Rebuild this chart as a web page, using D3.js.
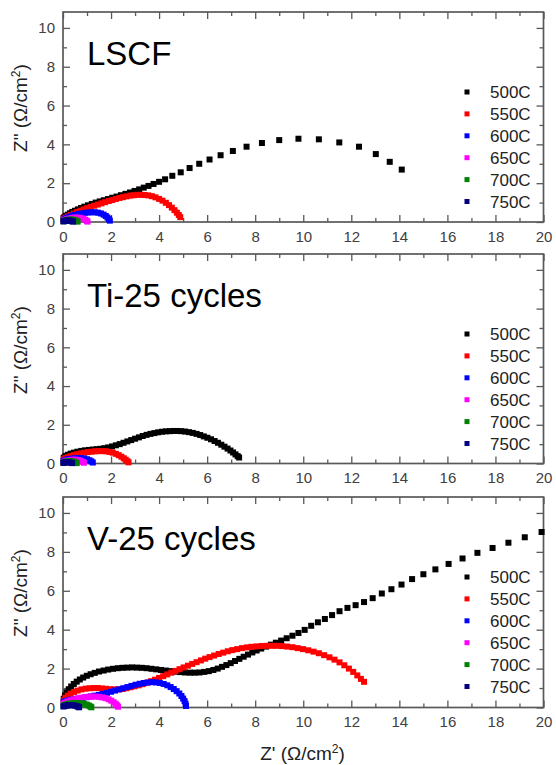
<!DOCTYPE html>
<html>
<head>
<meta charset="utf-8">
<script src="https://cdn.jsdelivr.net/npm/d3@7"></script>
<style>
  body { margin: 0; background: #fff; }
  svg { display: block; }
</style>
</head>
<body>
<svg id="chart" width="556" height="765"></svg>
<script>
// Nyquist plots of impedance, three electrodes, six temperatures each.
const temperatures = ["500C", "550C", "600C", "650C", "700C", "750C"];
const seriesColors = ["#000000", "#ff0000", "#0000ff", "#ff00ff", "#008000", "#000080"];
const panelNames = ["LSCF", "Ti-25 cycles", "V-25 cycles"];

const xMajorTicks = [0, 2, 4, 6, 8, 10, 12, 14, 16, 18, 20];
const xMinorTicks = [1, 3, 5, 7, 9, 11, 13, 15, 17, 19];
const yMajorTicks = [0, 2, 4, 6, 8, 10];
const yMinorTicks = [1, 3, 5, 7, 9];

// LSCF  [Z', Z'']
const lscf500 = [[0.02,0.2],[0.06,0.26],[0.12,0.32],[0.2,0.38],[0.29,0.45],[0.39,0.52],[0.5,0.58],[0.62,0.65],[0.75,0.72],[0.89,0.79],[1.04,0.86],[1.2,0.93],[1.36,1.0],[1.53,1.06],[1.7,1.12],[1.87,1.18],[2.05,1.25],[2.23,1.31],[2.41,1.38],[2.6,1.45],[2.79,1.52],[2.98,1.6],[3.17,1.68],[3.36,1.77],[3.56,1.86],[3.77,1.96],[4.0,2.07],[4.25,2.2],[4.55,2.38],[4.9,2.56],[5.27,2.78],[5.67,3.0],[6.1,3.22],[6.56,3.44],[7.07,3.66],[7.64,3.88],[8.28,4.07],[9.0,4.22],[9.8,4.29],[10.65,4.26],[11.5,4.1],[12.32,3.88],[13.02,3.5],[13.6,3.1],[14.1,2.7]];
const lscf550 = [[0.03,0.16],[0.1,0.23],[0.2,0.3],[0.32,0.37],[0.45,0.44],[0.58,0.51],[0.72,0.58],[0.86,0.65],[1.0,0.71],[1.15,0.78],[1.3,0.84],[1.45,0.9],[1.6,0.96],[1.75,1.02],[1.9,1.08],[2.05,1.13],[2.2,1.19],[2.35,1.24],[2.5,1.28],[2.65,1.32],[2.8,1.36],[2.95,1.38],[3.1,1.4],[3.25,1.4],[3.4,1.39],[3.55,1.37],[3.7,1.33],[3.85,1.27],[4.0,1.19],[4.14,1.1],[4.28,0.99],[4.41,0.87],[4.53,0.74],[4.64,0.61],[4.74,0.48],[4.82,0.36],[4.88,0.25]];
const lscf600 = [[0.03,0.1],[0.09,0.16],[0.17,0.22],[0.27,0.28],[0.38,0.33],[0.5,0.37],[0.63,0.41],[0.77,0.44],[0.91,0.47],[1.05,0.49],[1.19,0.5],[1.33,0.5],[1.46,0.48],[1.58,0.44],[1.69,0.38],[1.78,0.31],[1.85,0.23],[1.91,0.15],[1.95,0.07]];
const lscf650 = [[0.02,0.06],[0.08,0.1],[0.16,0.14],[0.26,0.18],[0.37,0.21],[0.49,0.23],[0.61,0.23],[0.73,0.21],[0.84,0.17],[0.93,0.12],[0.99,0.06],[1.02,0.02]];
const lscf700 = [[0.02,0.04],[0.08,0.07],[0.16,0.1],[0.25,0.12],[0.34,0.13],[0.43,0.12],[0.51,0.09],[0.57,0.05],[0.61,0.02]];
const lscf750 = [[0.02,0.03],[0.07,0.05],[0.13,0.07],[0.2,0.08],[0.27,0.08],[0.33,0.06],[0.38,0.04],[0.42,0.02]];

// Ti-25 cycles
const ti500 = [[0.03,0.3],[0.1,0.38],[0.2,0.45],[0.32,0.51],[0.45,0.56],[0.6,0.61],[0.76,0.65],[0.92,0.68],[1.08,0.7],[1.24,0.72],[1.4,0.74],[1.56,0.76],[1.72,0.79],[1.88,0.83],[2.04,0.88],[2.2,0.94],[2.36,1.0],[2.52,1.07],[2.68,1.14],[2.84,1.21],[3.0,1.28],[3.16,1.35],[3.32,1.42],[3.48,1.48],[3.64,1.53],[3.8,1.57],[3.96,1.61],[4.12,1.64],[4.28,1.66],[4.44,1.67],[4.6,1.68],[4.76,1.68],[4.92,1.67],[5.08,1.65],[5.24,1.62],[5.4,1.58],[5.56,1.53],[5.71,1.47],[5.86,1.4],[6.01,1.33],[6.16,1.25],[6.31,1.16],[6.45,1.07],[6.59,0.97],[6.72,0.87],[6.85,0.77],[6.97,0.67],[7.08,0.57],[7.18,0.47],[7.27,0.38],[7.33,0.31]];
const ti550 = [[0.03,0.22],[0.1,0.28],[0.2,0.33],[0.32,0.38],[0.45,0.43],[0.59,0.48],[0.74,0.52],[0.89,0.56],[1.04,0.59],[1.19,0.61],[1.34,0.63],[1.49,0.64],[1.64,0.64],[1.79,0.63],[1.93,0.6],[2.07,0.56],[2.2,0.5],[2.32,0.43],[2.43,0.35],[2.53,0.27],[2.61,0.19],[2.68,0.12],[2.73,0.06]];
const ti600 = [[0.02,0.12],[0.08,0.16],[0.16,0.2],[0.26,0.23],[0.37,0.25],[0.49,0.27],[0.62,0.28],[0.75,0.28],[0.88,0.26],[1.0,0.22],[1.1,0.17],[1.18,0.11],[1.24,0.05]];
const ti650 = [[0.02,0.07],[0.08,0.11],[0.17,0.15],[0.28,0.18],[0.4,0.2],[0.52,0.2],[0.64,0.18],[0.74,0.14],[0.82,0.09],[0.87,0.04]];
const ti700 = [[0.02,0.05],[0.08,0.08],[0.16,0.11],[0.25,0.12],[0.35,0.12],[0.44,0.1],[0.52,0.06],[0.57,0.02]];
const ti750 = [[0.02,0.03],[0.07,0.05],[0.13,0.07],[0.2,0.07],[0.27,0.06],[0.33,0.04],[0.38,0.02]];

// V-25 cycles
const v500 = [[0.03,0.45],[0.08,0.62],[0.15,0.78],[0.24,0.94],[0.34,1.08],[0.45,1.21],[0.57,1.33],[0.7,1.44],[0.84,1.54],[0.99,1.63],[1.15,1.71],[1.32,1.78],[1.5,1.85],[1.69,1.9],[1.88,1.95],[2.08,1.99],[2.28,2.02],[2.48,2.04],[2.68,2.05],[2.88,2.06],[3.08,2.05],[3.28,2.04],[3.48,2.02],[3.68,1.99],[3.88,1.96],[4.08,1.93],[4.28,1.9],[4.48,1.87],[4.68,1.84],[4.88,1.82],[5.08,1.8],[5.28,1.79],[5.48,1.79],[5.68,1.8],[5.88,1.83],[6.07,1.87],[6.26,1.93],[6.44,2.0],[6.62,2.09],[6.8,2.18],[6.98,2.28],[7.16,2.39],[7.34,2.5],[7.52,2.61],[7.7,2.72],[7.88,2.83],[8.06,2.93],[8.25,3.03],[8.45,3.13],[8.65,3.23],[8.86,3.33],[9.08,3.44],[9.31,3.56],[9.55,3.69],[9.8,3.83],[10.06,3.99],[10.33,4.2],[10.61,4.38],[10.9,4.55],[11.2,4.75],[11.51,4.95],[11.84,5.12],[12.18,5.26],[12.53,5.42],[12.89,5.62],[13.27,5.86],[13.67,6.08],[14.09,6.32],[14.53,6.6],[15.0,6.85],[15.5,7.1],[16.05,7.38],[16.63,7.66],[17.25,7.95],[17.88,8.2],[18.54,8.47],[19.22,8.75],[19.92,9.02]];
const v550 = [[0.03,0.38],[0.1,0.5],[0.2,0.61],[0.32,0.71],[0.46,0.8],[0.61,0.87],[0.77,0.93],[0.94,0.97],[1.11,0.99],[1.28,1.0],[1.45,1.0],[1.62,0.98],[1.79,0.96],[1.96,0.94],[2.13,0.93],[2.3,0.93],[2.47,0.95],[2.64,0.99],[2.81,1.04],[2.98,1.09],[3.15,1.14],[3.32,1.2],[3.49,1.27],[3.66,1.35],[3.83,1.43],[4.0,1.52],[4.17,1.61],[4.34,1.7],[4.51,1.79],[4.68,1.88],[4.85,1.97],[5.02,2.06],[5.2,2.15],[5.38,2.24],[5.56,2.33],[5.74,2.42],[5.92,2.51],[6.1,2.59],[6.29,2.67],[6.48,2.75],[6.67,2.82],[6.86,2.89],[7.05,2.95],[7.25,3.0],[7.45,3.05],[7.65,3.09],[7.85,3.12],[8.06,3.14],[8.27,3.16],[8.48,3.17],[8.69,3.17],[8.9,3.17],[9.11,3.16],[9.33,3.13],[9.55,3.1],[9.77,3.05],[9.99,3.0],[10.21,2.94],[10.43,2.87],[10.65,2.79],[10.87,2.69],[11.09,2.58],[11.3,2.46],[11.51,2.32],[11.71,2.17],[11.9,2.0],[12.08,1.83],[12.25,1.65],[12.4,1.47],[12.53,1.32]];
const v600 = [[0.03,0.28],[0.1,0.33],[0.2,0.37],[0.33,0.4],[0.48,0.43],[0.64,0.46],[0.81,0.49],[0.98,0.53],[1.15,0.57],[1.32,0.61],[1.49,0.65],[1.66,0.7],[1.83,0.75],[2.0,0.81],[2.17,0.87],[2.34,0.93],[2.51,0.99],[2.68,1.05],[2.85,1.11],[3.02,1.17],[3.19,1.22],[3.36,1.26],[3.53,1.29],[3.7,1.3],[3.87,1.29],[4.03,1.26],[4.19,1.21],[4.34,1.14],[4.48,1.05],[4.61,0.95],[4.73,0.84],[4.84,0.72],[4.93,0.59],[5.0,0.46],[5.06,0.33],[5.1,0.2],[5.12,0.08]];
const v650 = [[0.03,0.2],[0.1,0.26],[0.2,0.32],[0.32,0.37],[0.45,0.42],[0.59,0.46],[0.74,0.5],[0.89,0.53],[1.04,0.55],[1.19,0.56],[1.34,0.56],[1.49,0.55],[1.63,0.52],[1.77,0.48],[1.9,0.42],[2.01,0.35],[2.11,0.27],[2.19,0.19],[2.25,0.11],[2.29,0.04]];
const v700 = [[0.02,0.09],[0.08,0.13],[0.16,0.17],[0.26,0.2],[0.38,0.22],[0.5,0.23],[0.63,0.23],[0.76,0.22],[0.88,0.19],[0.99,0.15],[1.08,0.1],[1.14,0.05],[1.18,0.01]];
const v750 = [[0.02,0.05],[0.07,0.08],[0.14,0.1],[0.22,0.12],[0.31,0.12],[0.4,0.12],[0.49,0.1],[0.57,0.07],[0.63,0.04],[0.67,0.01]];

const panelSeries = [
  [lscf500, lscf550, lscf600, lscf650, lscf700, lscf750],
  [ti500, ti550, ti600, ti650, ti700, ti750],
  [v500, v550, v600, v650, v700, v750]
];

// Layout
const plotLeft = 63, plotRight = 543.5;
const panelBoxes = [
  { top: 12, bottom: 222 },
  { top: 254, bottom: 463.5 },
  { top: 497, bottom: 707.5 }
];
const yTop = 10.82;
const frameColor = "#595959";
const sans = "'Liberation Sans', Arial, sans-serif";

const svg = d3.select("#chart");
const x = d3.scaleLinear().domain([0, 20]).range([plotLeft, plotRight]);

// Bold heading running off the top edge (only descenders remain in view)
svg.append("g").selectAll("text")
  .data([112, 366]).join("text")
  .attr("x", d => d).attr("y", -7)
  .attr("text-anchor", "middle")
  .style("font-family", "'Liberation Serif', 'Times New Roman', serif")
  .style("font-weight", "bold").style("font-size", "32px")
  .text("p");

function styleAxis(sel) {
  sel.select(".domain").remove();
  sel.selectAll(".tick line").attr("stroke", frameColor).attr("stroke-width", 1.3);
  sel.selectAll(".tick text")
    .attr("fill", "#404040")
    .style("font-family", sans)
    .style("font-size", "15px");
}

panelBoxes.forEach((box, pi) => {
  const y = d3.scaleLinear().domain([0, yTop]).range([box.bottom, box.top]);
  const g = svg.append("g");

  // bottom axis: labelled majors + minors, ticks pointing inward
  g.append("g").attr("transform", `translate(0,${box.bottom})`)
    .call(d3.axisBottom(x).tickValues(xMajorTicks).tickSize(-7).tickPadding(9).tickFormat(d3.format("d")))
    .call(styleAxis);
  g.append("g").attr("transform", `translate(0,${box.bottom})`)
    .call(d3.axisBottom(x).tickValues(xMinorTicks).tickSize(-4).tickFormat(""))
    .call(styleAxis);
  // top mirror axis
  g.append("g").attr("transform", `translate(0,${box.top})`)
    .call(d3.axisTop(x).tickValues(xMajorTicks).tickSize(-7).tickFormat(""))
    .call(styleAxis);
  g.append("g").attr("transform", `translate(0,${box.top})`)
    .call(d3.axisTop(x).tickValues(xMinorTicks).tickSize(-4).tickFormat(""))
    .call(styleAxis);
  // left axis
  g.append("g").attr("transform", `translate(${plotLeft},0)`)
    .call(d3.axisLeft(y).tickValues(yMajorTicks).tickSize(-7).tickPadding(8).tickFormat(d3.format("d")))
    .call(styleAxis);
  g.append("g").attr("transform", `translate(${plotLeft},0)`)
    .call(d3.axisLeft(y).tickValues(yMinorTicks).tickSize(-4).tickFormat(""))
    .call(styleAxis);
  // right mirror axis
  g.append("g").attr("transform", `translate(${plotRight},0)`)
    .call(d3.axisRight(y).tickValues(yMajorTicks).tickSize(-7).tickFormat(""))
    .call(styleAxis);
  g.append("g").attr("transform", `translate(${plotRight},0)`)
    .call(d3.axisRight(y).tickValues(yMinorTicks).tickSize(-4).tickFormat(""))
    .call(styleAxis);

  // frame
  g.append("rect")
    .attr("x", plotLeft).attr("y", box.top)
    .attr("width", plotRight - plotLeft).attr("height", box.bottom - box.top)
    .attr("fill", "none").attr("stroke", frameColor).attr("stroke-width", 1.7);

  // data markers
  const m = 6;
  panelSeries[pi].forEach((pts, si) => {
    g.append("g").attr("fill", seriesColors[si])
      .selectAll("rect").data(pts).join("rect")
      .attr("x", d => x(d[0]) - m / 2)
      .attr("y", d => y(d[1]) - m / 2)
      .attr("width", m).attr("height", m);
  });

  // panel name
  g.append("text")
    .attr("x", 87).attr("y", box.top + 53)
    .attr("fill", "#000")
    .style("font-family", sans).style("font-size", "33px")
    .text(panelNames[pi]);

  // legend
  const lg = g.append("g");
  temperatures.forEach((t, i) => {
    const cy = box.top + 80 + i * 21.9;
    lg.append("rect")
      .attr("x", 464.5).attr("y", cy - 2.5)
      .attr("width", 5).attr("height", 5)
      .attr("fill", seriesColors[i]);
    lg.append("text")
      .attr("x", 490).attr("y", cy + 6)
      .attr("fill", "#222")
      .style("font-family", sans).style("font-size", "17px")
      .text(t);
  });

  // y axis title
  const yt = g.append("text")
    .attr("transform", `translate(27,${box.top + 96}) rotate(-90)`)
    .attr("text-anchor", "middle")
    .attr("fill", "#222")
    .style("font-family", sans).style("font-size", "19px");
  yt.append("tspan").text("Z\" (\u03A9/cm");
  yt.append("tspan").attr("baseline-shift", "super").style("font-size", "12px").text("2");
  yt.append("tspan").text(")");
});

// x axis title
const xt = svg.append("text")
  .attr("x", 302.5).attr("y", 760)
  .attr("text-anchor", "middle")
  .attr("fill", "#222")
  .style("font-family", sans).style("font-size", "19px");
xt.append("tspan").text("Z' (\u03A9/cm");
xt.append("tspan").attr("baseline-shift", "super").style("font-size", "12px").text("2");
xt.append("tspan").text(")");
</script>
</body>
</html>
